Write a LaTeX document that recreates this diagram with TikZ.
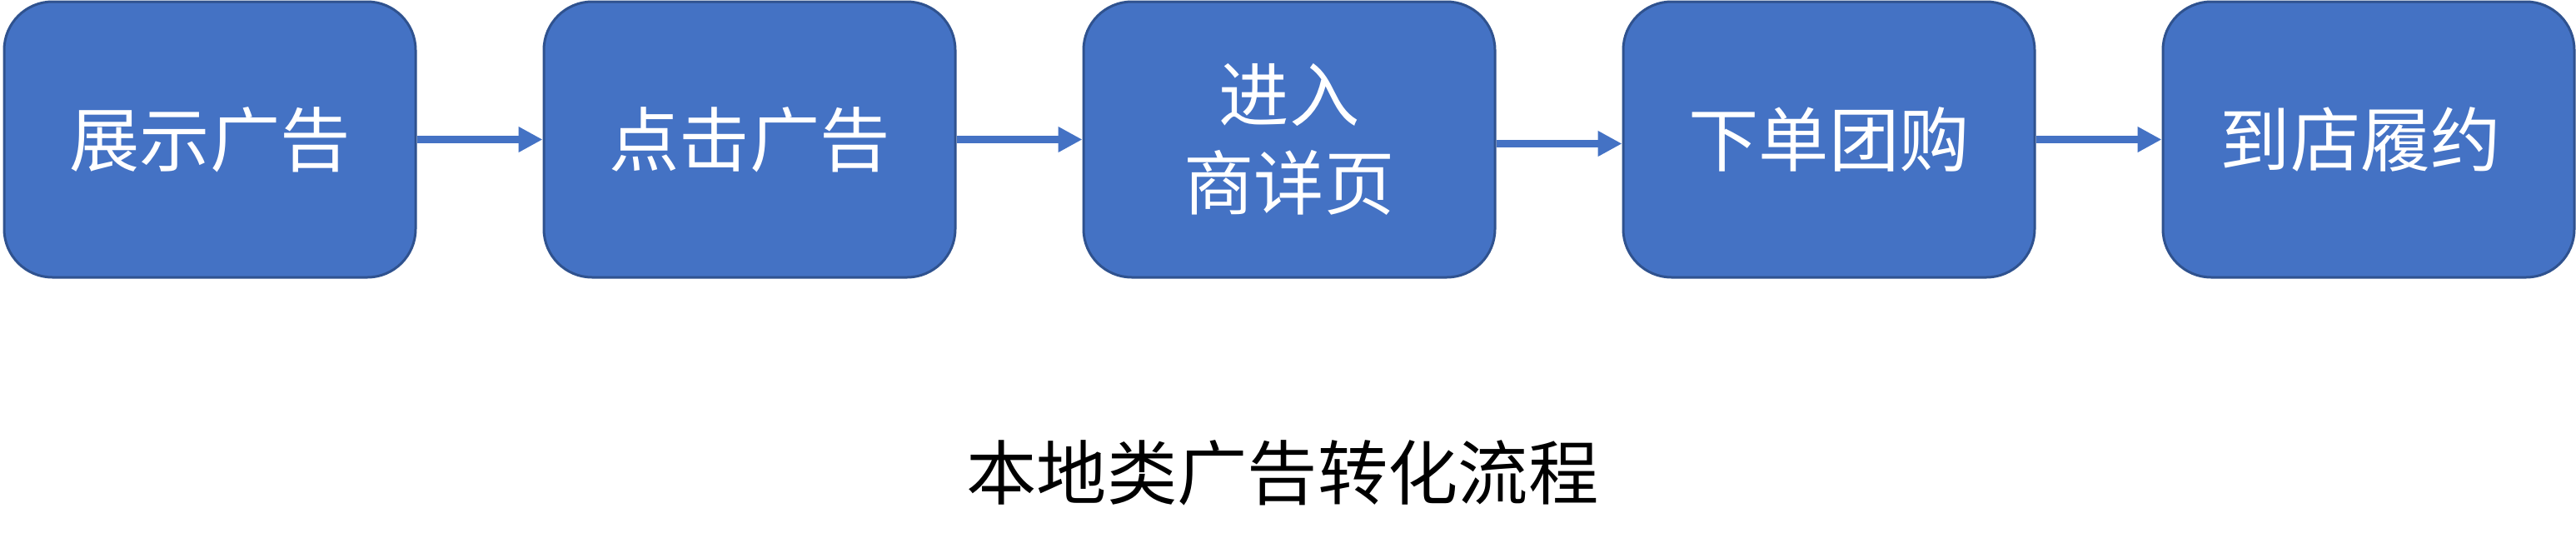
\documentclass[tikz,border=0pt]{standalone}
\usepackage{fontspec}
\setmainfont{Noto Sans CJK SC}
\usetikzlibrary{arrows.meta}
\definecolor{boxfill}{HTML}{4472C4}
\definecolor{boxline}{HTML}{2F528F}

\begin{document}
\begin{tikzpicture}[
stage/.style={draw=boxline, fill=boxfill, line width=.03cm, rounded corners=.58cm,
	minimum width=4.94cm, minimum height=3.31cm, inner sep=0pt,
	text=white, align=center, font=\fontsize{24}{30}\selectfont},
flow/.style={draw=boxfill, line width=.09cm, -{Triangle[length=.29cm, width=.29cm]}},
title/.style={font=\fontsize{24}{30}\selectfont}
]

\def\w{6.48}
\def\h{-1.675}

\useasboundingbox (0,0) rectangle (30.93,-6.69);

%%% Stages
\foreach \i/\txt in {
	1/展示广告,
	2/点击广告,
	3/进入\\商详页,
	4/下单团购,
	5/到店履约
	}{
	\pgfmathsetmacro{\x}{2.52+(\i-1)*\w}
	\node[stage] (s\i) at (\x,\h) {\txt};
}

%%% Arrows
\foreach \i/\j/\dy in {1/2/0, 2/3/0, 3/4/-.05, 4/5/0}{
	\draw[flow] ([yshift=\dy cm]s\i.east) -- ([yshift=\dy cm]s\j.west);
}

%%% Caption
\node[title] (cap) at (15.40,-5.68) {本地类广告转化流程};

\end{tikzpicture}
\end{document}
